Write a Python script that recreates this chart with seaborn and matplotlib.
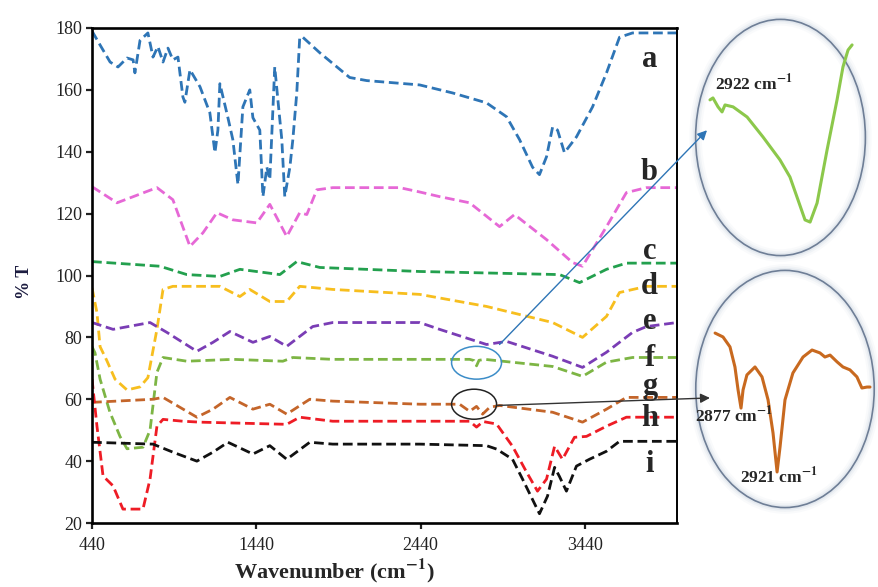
import matplotlib
matplotlib.use("Agg")
import matplotlib.pyplot as plt
from matplotlib.patches import Ellipse, ConnectionPatch
import pandas as pd
import seaborn as sns

# FTIR spectra: wavenumber (cm-1) and %T (offset traces)
a_wn = [440, 489, 550, 598, 653, 690, 701, 732, 780, 811, 841, 872, 902, 932, 963, 993, 1005, 1036,
        1097, 1157, 1188, 1206, 1218, 1267, 1297, 1328, 1358, 1400, 1419, 1461, 1480, 1504, 1522,
        1552, 1571, 1595, 1613, 1644, 1662, 1686, 1704, 1723, 1826, 2008, 2112, 2434, 2635, 2738,
        2841, 2963, 3042, 3121, 3163, 3206, 3243, 3273, 3315, 3388, 3486, 3571, 3650, 3729, 4000]
a_t = [179, 174.5, 169, 167.4, 170.3, 169.7, 165.5, 176, 178.4, 170.6, 174, 169, 173.5, 169.7, 170.6,
       157.7, 156, 166.5, 161, 152.6, 139.7, 147, 162, 151, 143.9, 129.4, 154.5, 160, 151, 147, 125.5,
       135, 131, 167.4, 156.8, 143.9, 125.5, 135, 143.9, 159, 177, 177, 172, 164, 163, 161.6, 159,
       157.4, 155.8, 151.3, 143.9, 135, 132.6, 138.4, 148, 147, 139.7, 144.8, 154.5, 165.5, 177,
       178.4, 178.4]

b_wn = [440, 592, 835, 932, 1036, 1115, 1200, 1297, 1443, 1522, 1625, 1704, 1747, 1808, 1905, 2312,
        2434, 2555, 2738, 2920, 3011, 3206, 3364, 3425, 3571, 3692, 3814, 4000]
b_t = [128.7, 123.5, 128.4, 124.5, 109.4, 113.8, 120.3, 118, 117, 123, 112.6, 120.3, 119.7, 127.7,
       128.4, 128.4, 127, 125.5, 123.5, 115.8, 119.7, 111.6, 104.2, 103, 115.8, 126.8, 128.4, 128.4]

c_wn = [440, 853, 1017, 1218, 1340, 1583, 1686, 1826, 2434, 3285, 3407, 3571, 3692, 4000]
c_t = [104.5, 103, 100.3, 99.7, 102, 100.3, 104.5, 102.6, 101.3, 100.3, 97.7, 102, 104, 104]

d_wn = [440, 470, 489, 530, 580, 653, 732, 780, 835, 872, 932, 1218, 1340, 1400, 1522, 1625, 1704,
        1905, 2434, 2841, 3243, 3425, 3571, 3650, 3814, 4000]
d_t = [96, 88, 77, 72.5, 66.5, 63, 64, 67, 82.6, 95.5, 96.5, 96.5, 93.2, 95.5, 91.6, 91.6, 96.5,
       95.5, 93.9, 90, 84.8, 80, 86.8, 94.5, 96.5, 96.5]

e_wn = [440, 568, 793, 896, 1078, 1176, 1279, 1419, 1522, 1625, 1783, 1905, 2312, 2434, 2555, 2841,
        2963, 3243, 3425, 3571, 3729, 3814, 4000]
e_t = [84.8, 82.6, 84.8, 81.6, 75.5, 78.4, 81.9, 78.4, 80.3, 77.1, 83.5, 84.8, 84.8, 84.8, 82.6,
       77.7, 78.7, 73.9, 70.3, 75.2, 81.6, 83.5, 84.8]

f_wn = [440, 458, 489, 549, 610, 653, 750, 793, 835, 872, 1017, 1297, 1601, 1662, 1905, 2434, 2738,
        2765, 2780, 2795, 2830, 3243, 3425, 3571, 3729, 4000]
f_t = [77, 75, 66.5, 55.8, 48, 44, 44.5, 50, 68.7, 73.5, 72.3, 72.9, 72.3, 73.5, 72.9, 72.9, 72.9,
       72.5, 70.8, 72.6, 72.9, 70.6, 67.4, 72, 73.5, 73.5]

g_wn = [440, 811, 872, 1078, 1176, 1279, 1419, 1522, 1625, 1765, 1905, 2434, 2677, 2738, 2780, 2817,
        2860, 2920, 3243, 3425, 3571, 3692, 4000]
g_t = [59, 60, 60.6, 54.2, 56.8, 60.6, 56.8, 58.4, 55.2, 60, 59.4, 58.4, 58.4, 56.1, 57.7, 55.2,
       57.4, 58, 55.8, 52.6, 56.8, 60.6, 60.6]

h_wn = [440, 470, 507, 568, 628, 750, 793, 835, 872, 993, 1097, 1625, 1704, 1905, 2434, 2738, 2780,
        2820, 2902, 2999, 3084, 3151, 3206, 3255, 3303, 3376, 3449, 3571, 3692, 4000]
h_t = [66.5, 51.3, 35.2, 32, 24.5, 24.5, 34.2, 51.3, 53.5, 52.9, 52.6, 51.9, 54.2, 52.9, 52.9, 52.9,
       51, 52.8, 52, 44.8, 36.5, 30.3, 34.2, 44.8, 40.6, 47.7, 48, 51.3, 54.2, 54.2]

i_wn = [440, 811, 932, 1078, 1176, 1267, 1419, 1522, 1625, 1765, 1905, 2434, 2841, 2902, 2999, 3060,
        3163, 3212, 3255, 3285, 3327, 3388, 3467, 3571, 3650, 4000]
i_t = [46.1, 45.5, 42.9, 40, 42.9, 46.1, 42.3, 45, 40.6, 46.1, 45.5, 45.5, 45, 43.9, 40.6, 34.2,
       23, 28.7, 38, 35, 30.3, 38.4, 40.6, 43.2, 46.4, 46.4]

samples = ["a", "b", "c", "d", "e", "f", "g", "h", "i"]
colors = ["#2E75B6", "#E668D6", "#23A04E", "#F7BE1E", "#7A3DB5", "#7DB544", "#C4652A", "#EE1C25", "#111111"]
spectra = [(a_wn, a_t), (b_wn, b_t), (c_wn, c_t), (d_wn, d_t), (e_wn, e_t),
           (f_wn, f_t), (g_wn, g_t), (h_wn, h_t), (i_wn, i_t)]
label_t = [167.4, 131, 105.2, 93.9, 82.6, 70.6, 61.6, 51.3, 36.5]

# zoomed insets (relative units inside each circle)
ins_f_x = [9.7, 11.4, 14.3, 16.6, 18.3, 22.9, 30.9, 40, 49.7, 55.4, 60, 64, 66.9, 70.9, 76.6, 82.3, 85.7, 88.6, 90.9]
ins_f_y = [65.6, 66.4, 62.7, 60.6, 63.5, 62.7, 58.5, 50.2, 40.7, 33.6, 24.1, 15.8, 14.9, 22.8, 44.8, 65.6, 79.3, 86.3, 88.4]
ins_g_x = [12, 16.3, 20.1, 22.8, 24.5, 26.1, 27.2, 29.3, 33.7, 37.5, 40.8, 43.5, 45.7, 47.3, 50, 54.3,
           59.8, 64.7, 69, 71.7, 74.5, 78.3, 81.5, 85.3, 89.1, 91.8, 94.6, 96.2]
ins_g_y = [73.1, 71.5, 67.4, 59.1, 49.6, 42.1, 49.6, 55.8, 59.1, 55, 45.5, 31.8, 15.7, 26, 45.5, 56.6,
           63.2, 66.1, 64.9, 63.2, 64, 61.2, 59.1, 57.9, 55, 50.4, 50.8, 50.8]

rows = []
for s, (wn, t) in zip(samples, spectra):
    rows += [{"sample": s, "wn": w, "T": v} for w, v in zip(wn, t)]
df = pd.DataFrame(rows)

sns.set_style("ticks")
plt.rcParams["font.family"] = ["Liberation Serif", "DejaVu Serif"]
plt.rcParams["mathtext.fontset"] = "stix"
plt.rcParams["mathtext.default"] = "bf"

fig = plt.figure(figsize=(8.79, 5.87), dpi=100)
ax = fig.add_axes([0.1047, 0.109, 0.6655, 0.8433])

sns.lineplot(data=df, x="wn", y="T", hue="sample", style="sample", palette=dict(zip(samples, colors)),
             dashes={s: (3.5, 1.7) for s in samples}, estimator=None, sort=False, legend=False,
             lw=2.0, ax=ax)

ax.set_xlim(440, 4000)
ax.set_ylim(20, 180)
ax.set_xticks([440, 1440, 2440, 3440])
ax.set_yticks(range(20, 181, 20))
ax.tick_params(direction="out", length=4, width=1.6, labelsize=13, colors="#222222", pad=3)
ax.tick_params(axis="x", pad=6)
for sp in ax.spines.values():
    sp.set_visible(True)
    sp.set_linewidth(1.9)
    sp.set_color("black")
ax.spines["right"].set_linewidth(1.4)

ax.set_xlabel("Wavenumber (cm$^{-1}$)", fontsize=16, fontweight="bold")
ax.xaxis.set_label_coords(0.415, -0.068)
ax.set_ylabel("% T", fontsize=13, fontweight="bold", color="#1c1c40")
ax.yaxis.set_label_coords(-0.101, 0.487)

for s, y in zip(samples, label_t):
    ax.text(3832, y, s, fontsize=22, fontweight="bold", ha="center", va="baseline", zorder=5)

# marked regions on traces f and g
ax.add_patch(Ellipse((2780, 71.8), 304, 10.6, fill=False, ec="#3C8DC8", lw=1.1, zorder=4))
ax.add_patch(Ellipse((2765, 58.4), 274, 9.7, fill=False, ec="#222222", lw=1.1, zorder=4))

# inset circles
ax_up = fig.add_axes([0.7884, 0.5605, 0.1991, 0.4106])
ax_lo = fig.add_axes([0.7884, 0.1312, 0.2093, 0.4123])
for axi in (ax_up, ax_lo):
    axi.set_xlim(0, 100)
    axi.set_ylim(0, 100)
    axi.set_axis_off()
    for lw, al in [(9, 0.05), (6, 0.08), (3.5, 0.12)]:
        axi.add_patch(Ellipse((50, 50), 97, 98, fill=False, ec="#8EA2C0", lw=lw, alpha=al, clip_on=False))
    axi.add_patch(Ellipse((50, 50), 97, 98, fill=False, ec="#6E7E96", lw=1.2, clip_on=False))

sns.lineplot(x=ins_f_x, y=ins_f_y, color="#8CC84B", lw=2.2, estimator=None, sort=False, ax=ax_up)
sns.lineplot(x=ins_g_x, y=ins_g_y, color="#C8691F", lw=2.2, estimator=None, sort=False, ax=ax_lo)
ax_up.text(12.6, 69.7, "2922 cm$^{-1}$", fontsize=12.5, fontweight="bold")
ax_lo.text(1.1, 36.4, "2877 cm$^{-1}$", fontsize=12.5, fontweight="bold")
ax_lo.text(25.5, 11.2, "2921 cm$^{-1}$", fontsize=12.5, fontweight="bold")

# arrows from the marked regions to the circles
fig.add_artist(ConnectionPatch(xyA=(2920, 77.7), coordsA=ax.transData, xyB=(8, 53), coordsB=ax_up.transData,
                               arrowstyle="-|>", mutation_scale=14, color="#2E75B6", lw=1.0))
fig.add_artist(ConnectionPatch(xyA=(2905, 58), coordsA=ax.transData, xyB=(9.2, 46.3), coordsB=ax_lo.transData,
                               arrowstyle="-|>", mutation_scale=14, color="#333333", lw=1.0))

plt.savefig("out.png", dpi=100)
